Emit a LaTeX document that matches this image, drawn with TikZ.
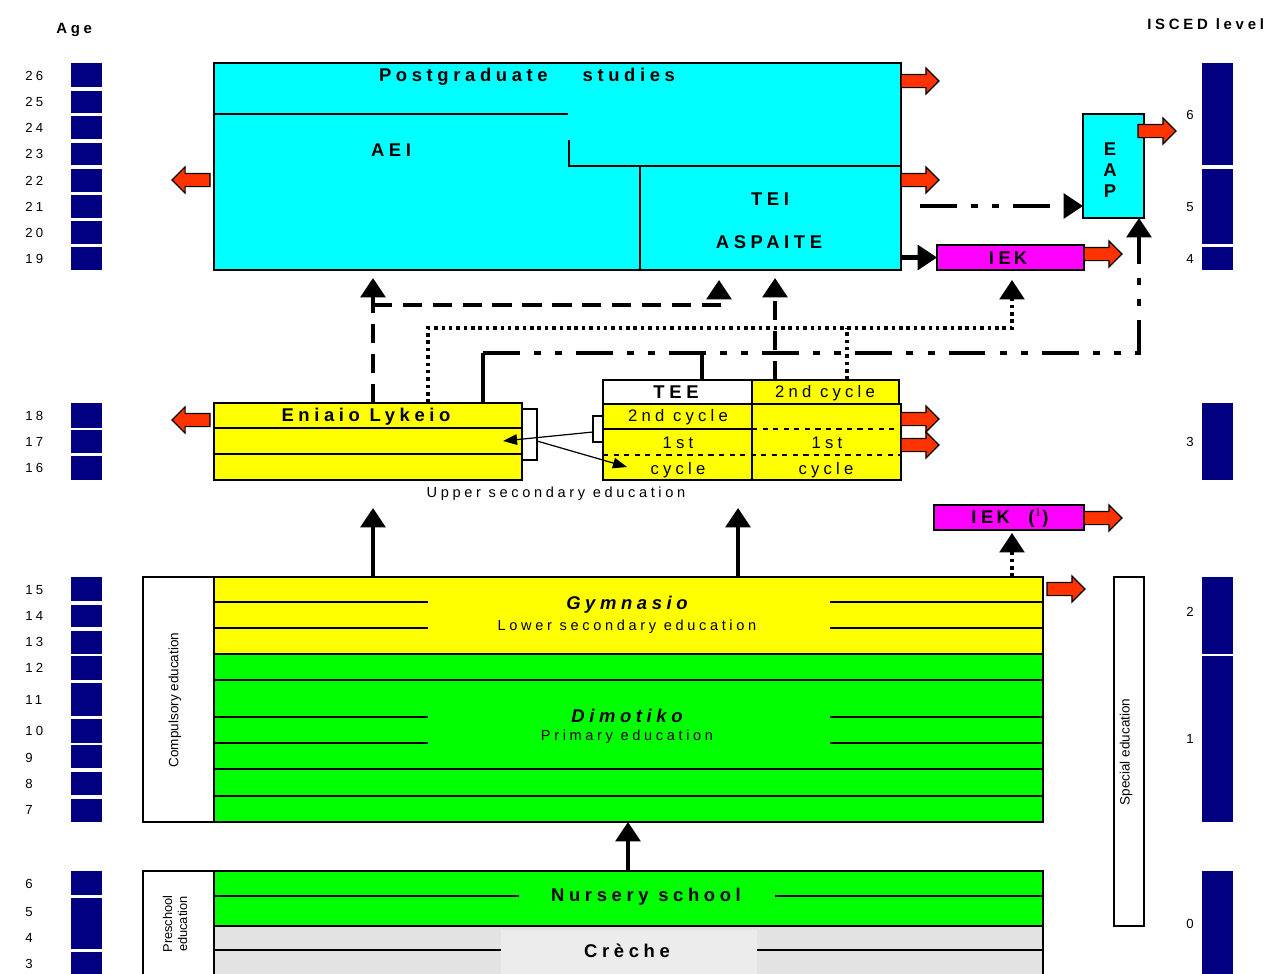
\documentclass[tikz,border=0pt]{standalone}
\usepackage{fontspec}
\setmainfont{Liberation Sans}
\newfontfamily\spc[LetterSpace=25]{Liberation Sans}
\usetikzlibrary{arrows.meta,shapes.arrows}

\definecolor{aeicyan}{RGB}{0,255,255}
\definecolor{lykyellow}{RGB}{255,255,0}
\definecolor{dimgreen}{RGB}{0,255,0}
\definecolor{iekmagenta}{RGB}{255,0,255}
\definecolor{agenavy}{RGB}{0,0,128}
\definecolor{exitred}{RGB}{255,51,0}
\definecolor{crechegray}{RGB}{227,227,227}
\definecolor{crechelabel}{RGB}{236,236,236}

\begin{document}
\begin{tikzpicture}[x=0.02cm, y=-0.02cm,
  box/.style 2 args={draw, line width=0.9pt, anchor=north west, inner sep=0pt, outer sep=0pt,
    minimum width=#1*0.02cm, minimum height=#2*0.02cm},
  lbl/.style={font=\spc\bfseries\fontsize{10.5}{12}\selectfont, inner sep=0pt},
  lbli/.style={font=\spc\bfseries\itshape\fontsize{10.5}{12}\selectfont, inner sep=0pt},
  sub/.style={font=\spc\fontsize{8.3}{10}\selectfont, inner sep=0pt},
  cell/.style={font=\spc\fontsize{9.5}{11}\selectfont, inner sep=0pt},
  agenum/.style={font=\spc\fontsize{7.5}{9}\selectfont, inner sep=0pt},
  head/.style={font=\spc\bfseries\fontsize{8.5}{10}\selectfont, inner sep=0pt},
  side/.style={font=\fontsize{7.7}{9}\selectfont, rotate=90, inner sep=0pt, align=center},
  exitarrow/.style={single arrow, draw=black, line width=0.7pt, fill=exitred,
    minimum height=0.76cm, minimum width=0.5cm, single arrow head extend=0.13cm,
    inner sep=0.12cm, outer sep=0pt},
  bigtip/.tip={Triangle[length=11pt,width=14pt]},
  dashlink/.style={line width=2.3pt, dash pattern=on 11pt off 6pt, -bigtip},
  dotlink/.style={line width=2pt, dash pattern=on 2pt off 2.2pt, -bigtip},
  ddlink/.style={line width=2.3pt, dash pattern=on 21pt off 8pt on 4pt off 8pt on 4pt off 8pt, -bigtip},
  solidlink/.style={line width=2.3pt, -bigtip},
  thinlink/.style={line width=0.7pt, -{Triangle[length=8pt,width=6pt]}}]
\useasboundingbox (0,0) rectangle (1272,974);

% headings
\node[head, anchor=west] (agehead) at (56,30) {Age};
\node[head, anchor=west] (iscedhead) at (1147,24) {ISCED level};

% age scale
\foreach \t/\b in {63/87,91/113,116/139,143/165,169/192,195/218,221/244,247/270,
    403/428,430/453,456/480,577/601,605/627,631/654,656/680,683/716,719/743,
    745/768,772/795,799/822,871/895,898/949,952/974}
  \fill[agenavy] (71,\t) rectangle (102,\b);
\foreach \a/\y in {26/76,25/102,24/128,23/154,22/181,21/207,20/233,19/259,
    18/416,17/442,16/468,15/590,14/616,13/642,12/668,11/700,10/731,9/758,
    8/784,7/810,6/884,5/912,4/938,3/964}
  \node[agenum, anchor=west] (age\a) at (25,\y) {\a};

% ISCED scale
\foreach \t/\b in {63/165,169/244,247/270,403/480,577/654,656/822,871/974}
  \fill[agenavy] (1202,\t) rectangle (1233,\b);
\foreach \l/\y in {6/115,5/207,4/259,3/442,2/612,1/739,0/924}
  \node[agenum] (isced\l) at (1190,\y) {\l};

% higher education
\node[box={687}{207}, fill=aeicyan, line width=1.2pt] (hi) at (214,63) {};
\draw[line width=0.9pt] (214,114) -- (568,114);
\draw[line width=0.9pt] (569,140) -- (569,166) -- (901,166);
\draw[line width=0.9pt] (640,166) -- (640,270);
\node[lbl] (pgs) at (527,77) {Postgraduate\hspace*{1.9em}studies};
\node[lbl] (aei) at (391,150) {AEI};
\node[lbl] (tei) at (770,199) {TEI};
\node[lbl] (aspaite) at (769,242) {ASPAITE};

\node[box={61}{104}, fill=aeicyan] (eap) at (1083,114) {};
\node[font=\bfseries\fontsize{10.5}{12}\selectfont, align=center, inner sep=0pt] (eapt) at (1110,170) {E\\A\\P};
\node[box={147}{25}, fill=iekmagenta] (iek) at (937,245) {};
\node[lbl] (iekt) at (1008,258) {IE\,K};

% upper secondary
\node[box={308}{77}, fill=lykyellow] (ely) at (214,403) {};
\draw[line width=0.9pt] (214,428) -- (522,428) (214,454) -- (522,454);
\node[lbl] (elyt) at (366,417) {Eniaio Lykeio};
\node[sub] (uppsec) at (556,494) {Upper secondary education};

\node[box={149}{24}, fill=white] (teeh) at (603,380) {};
\node[box={147}{24}, fill=lykyellow] (tee2h) at (752,380) {};
\node[box={298}{76}, fill=lykyellow] (tee) at (603,404) {};
\draw[line width=0.9pt] (752,404) -- (752,480) (603,429) -- (752,429);
\draw[dashed, line width=0.8pt] (752,429) -- (901,429) (603,455) -- (901,455);
\node[lbl] (teet) at (676,392) {TEE};
\node[cell] (c2h) at (825,393) {2nd cycle};
\node[cell] (c2l) at (678,417) {2nd cycle};
\node[cell] (c1l) at (678,443) {1st};
\node[cell] (c1r) at (827,443) {1st};
\node[cell] (cyl) at (678,470) {cycle};
\node[cell] (cyr) at (826,470) {cycle};

% brackets
\draw[line width=0.6pt] (522,409) -- (537,409) -- (537,460) -- (522,460);
\draw[line width=0.6pt] (603,416) -- (593,416) -- (593,442) -- (603,442);
\coordinate (brtee) at (593,432);
\coordinate (brely) at (537,441);
\coordinate (elyin) at (503,441);
\coordinate (teein) at (627,467);
\draw[thinlink] (brtee) -- (elyin);
\draw[thinlink] (brely) -- (teein);

\node[box={150}{25}, fill=iekmagenta] (iekb) at (934,505) {};
\node[lbl] (iekbt) at (1010,518) {IE\,K\quad($^{1}$)};

% compulsory
\node[box={71}{245}, fill=white] (comp) at (143,577) {};
\node[side] (compt) at (175,700) {Compulsory education};
\node[box={829}{77}, fill=lykyellow] (gym) at (214,577) {};
\node[box={829}{168}, fill=dimgreen] (dim) at (214,654) {};
\foreach \y in {602,628,717,743}
  \draw[line width=0.8pt] (214,\y) -- (428,\y) (830,\y) -- (1043,\y);
\foreach \y in {680,769,796}
  \draw[line width=0.8pt] (214,\y) -- (1043,\y);
\node[lbli] (gymt) at (627,605) {Gymnasio};
\node[sub] (gyms) at (627,627) {Lower secondary education};
\node[lbli] (dimt) at (627,716) {Dimotiko};
\node[sub] (dims) at (627,737) {Primary education};

\node[box={30}{349}, fill=white] (spe) at (1114,577) {};
\node[side] (spet) at (1126,752) {Special education};

% preschool
\node[box={71}{120}, fill=white] (pre) at (143,871) {};
\node[side, font=\fontsize{7.3}{8.5}\selectfont] (pret) at (175,924) {Preschool\\education};
\node[box={829}{55}, fill=dimgreen] (nur) at (214,871) {};
\node[box={829}{70}, fill=crechegray] (cre) at (214,926) {};
\fill[crechelabel] (501,930) rectangle (757,990);
\draw[line width=0.8pt] (214,896) -- (519,896) (775,896) -- (1043,896);
\draw[line width=0.8pt] (214,950) -- (501,950) (757,950) -- (1043,950);
\node[lbl] (nurt) at (646,897) {Nursery school};
\node[lbl] (cret) at (627,951) {Crèche};

% exits
\foreach \n/\x/\y/\r in {1/901/81/0,2/901/180/0,3/210/180/180,4/1138/131/0,5/1084/254/0,
    6/210/420/180,7/901/419/0,8/901/445/0,9/1084/518/0,10/1047/589/0}
  \node[exitarrow, rotate=\r, anchor=tail] (exit\n) at (\x,\y) {};

% connectors
\coordinate (xaei) at (373,0);
\coordinate (xtei) at (719,0);
\coordinate (xasp) at (775,0);
\coordinate (xiek) at (1012,0);
\coordinate (xdot) at (428,0);
\coordinate (xdd) at (483,0);
\coordinate (xtee) at (702,0);
\coordinate (xtee2) at (847,0);
\coordinate (xeap) at (1139,0);
\coordinate (xgt) at (738,0);
\coordinate (xdim) at (628,0);
\coordinate (ydash) at (0,305);
\coordinate (ydot) at (0,328);
\coordinate (ydd) at (0,353);
\coordinate (eapfrom) at (920,206);

\draw[dashlink, shorten >=0.16cm] (ely.north -| xaei) -- (hi.south -| xaei);
\draw[dashlink, shorten >=0.2cm] (xaei |- ydash) -- (xtei |- ydash) -- (hi.south -| xtei);
\draw[dashlink, shorten >=0.16cm] (tee2h.north -| xasp) -- (hi.south -| xasp);
\draw[dotlink, shorten >=0.2cm] (ely.north -| xdot) -- (xdot |- ydot) -- (xiek |- ydot) -- (iek.south -| xiek);
\draw[dotlink, -] (tee2h.north -| xtee2) -- (xtee2 |- ydot);
\draw[solidlink, -] (ely.north -| xdd) -- (xdd |- ydd);
\draw[ddlink] (xdd |- ydd) -- (xeap |- ydd) -- (eap.south -| xeap);
\draw[solidlink, -] (teeh.north -| xtee) -- (xtee |- ydd);
\draw[ddlink] (eapfrom) -- (eapfrom -| eap.west);
\draw[ddlink] (hi.east |- iek.west) -- (iek.west);
\draw[solidlink, shorten >=0.56cm] (gym.north -| xaei) -- (ely.south -| xaei);
\draw[solidlink, shorten >=0.56cm] (gym.north -| xgt) -- (tee.south -| xgt);
\draw[dotlink, shorten >=0.06cm] (gym.north -| xiek) -- (iekb.south -| xiek);
\draw[solidlink] (nur.north -| xdim) -- (dim.south -| xdim);
\end{tikzpicture}
\end{document}
